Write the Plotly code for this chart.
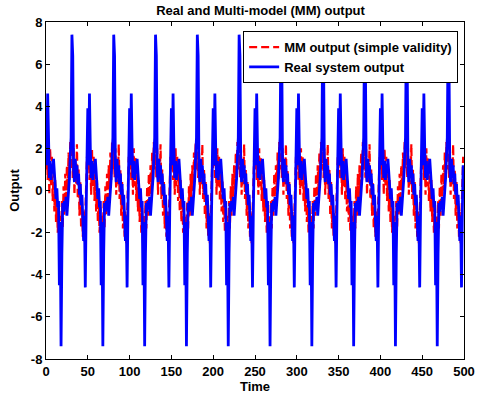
import numpy as np
import plotly.graph_objects as go

# One period (50 time units) of each signal
period = 50
n_periods = 10

real_period = [3.9, 1.2, 4.6, 2.0, 0.6, 1.4, 0.5, 1.2, 0.8, 1.5,
               0.6, 0.2, -0.4, 0.1, -0.8, -0.5, -4.5, -1.5, -7.4, -3.0,
               -0.6, -1.0, -0.5, -0.9, -0.3, -1.2, -0.6, -0.2, 0.6, 1.6,
               2.5, 7.4, 6.4, 1.0, 0.4, 1.5, 0.6, 1.2, 0.3, 0.8,
               -0.2, 0.3, -0.7, -0.2, -1.0, -2.4, -1.2, -4.6, -1.0, 1.2]

mm_period = [1.0, 2.2, 0.5, 1.8, -0.2, 2.0, 0.2, 1.6, -0.5, 0.8,
             -1.0, 0.5, -1.5, -0.2, -2.0, -0.8, -2.5, -1.2, -2.0, -0.5,
             -1.8, 0.2, -1.2, 0.8, -0.6, 1.2, 0.0, 1.8, 0.5, 2.3,
             1.0, 2.6, 0.6, 2.0, -0.2, 1.5, 0.3, 2.2, -0.4, 1.0,
             -1.2, 0.4, -1.8, -0.5, -2.2, -1.0, -2.5, -1.2, -0.3, 1.6]

# MM value at the tall peak (index 31) in each period
mm_peak_per_period = [2.7, 2.5, 2.6, 2.8, 2.6, 4.4, 3.0, 3.6, 2.8, 4.4]

x_ticks = [0, 50, 100, 150, 200, 250, 300, 350, 400, 450, 500]
y_ticks = [-8, -6, -4, -2, 0, 2, 4, 6, 8]

time = np.arange(period * n_periods)
real = np.tile(real_period, n_periods)
mm = np.tile(mm_period, n_periods).astype(float)
for k, v in enumerate(mm_peak_per_period):
    mm[k * period + 31] = v

font = dict(family="Liberation Sans, Arial, sans-serif", size=13, color="black", weight="bold")

fig = go.Figure()
fig.add_trace(go.Scatter(x=time, y=mm, mode="lines", name="MM output (simple validity)",
                         line=dict(color="#ff0000", width=2.2, dash="8px,4px")))
fig.add_trace(go.Scatter(x=time, y=real, mode="lines", name="Real system output",
                         line=dict(color="#0000ff", width=2.8)))

axis_common = dict(showline=True, linecolor="black", linewidth=1, mirror="ticks",
                   ticks="inside", ticklen=4, tickcolor="black", showgrid=False,
                   zeroline=False, tickfont=font)

fig.update_layout(
    width=487, height=402,
    margin=dict(l=46, r=12, t=22, b=40),
    paper_bgcolor="white", plot_bgcolor="white",
    font=font,
    title=dict(text="Real and Multi-model (MM) output", x=0.535, xanchor="center",
               y=0.975, yanchor="middle", font=font),
    xaxis=dict(range=[0, 500], tickvals=x_ticks, ticktext=[str(v) for v in x_ticks],
               title=dict(text="Time", font=font, standoff=2), **axis_common),
    yaxis=dict(range=[-8, 8], tickvals=y_ticks, ticktext=[str(v) for v in y_ticks],
               title=dict(text="Output", font=font, standoff=8), **axis_common),
    legend=dict(x=0.986, y=0.973, xanchor="right", yanchor="top", bgcolor="white",
                bordercolor="black", borderwidth=1, font=font,
                tracegroupgap=0, itemwidth=30),
    showlegend=True,
)

fig.write_html("out.html")
